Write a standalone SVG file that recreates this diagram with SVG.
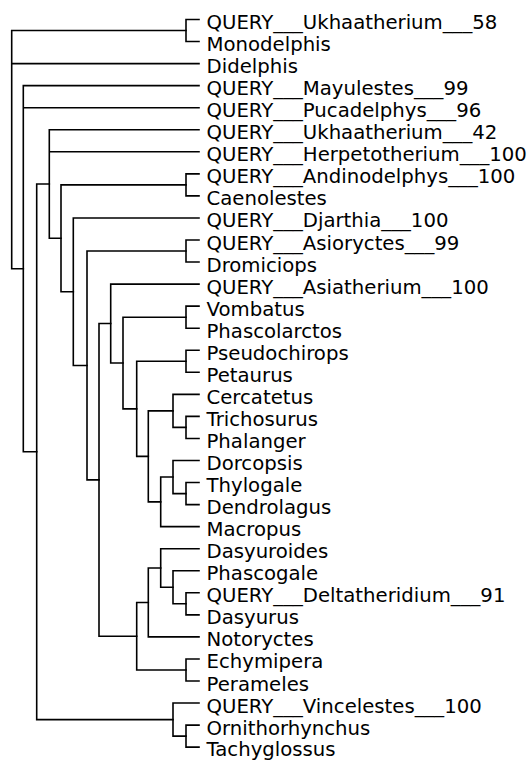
<svg xmlns="http://www.w3.org/2000/svg" width="531" height="760" viewBox="0 0 531 760">
<style>
.e{fill:none;stroke:#000;stroke-width:1.6;stroke-linecap:square}
text{font-family:"DejaVu Sans",sans-serif;font-size:19.7px;fill:#000}
</style>
<rect width="531" height="760" fill="#fff"/>
<g id="connectors" class="e">
<path d="M11.7,30.5V268.7M11.7,30.5H186M11.7,63.6H199M11.7,268.7H23.3"/>
<path d="M186,19.5V41.55M186,19.5H199M186,41.55H199"/>
<path d="M23.3,85.65V451.8M23.3,85.65H199M23.3,107.7H199M23.3,451.8H36.7"/>
<path d="M36.7,184V719.6M36.7,184H49.3M36.7,719.6H173"/>
<path d="M49.3,129.75V238.3M49.3,129.75H199M49.3,151.8H199M49.3,238.3H61"/>
<path d="M61,184.9V291.7M61,184.9H186M61,291.7H73.3"/>
<path d="M186,173.85V195.9M186,173.85H199M186,195.9H199"/>
<path d="M73.3,217.95V365.45M73.3,217.95H199M73.3,365.45H87"/>
<path d="M87,251V479.9M87,251H186M87,479.9H99"/>
<path d="M186,240V262.05M186,240H199M186,262.05H199"/>
<path d="M99,323.55V636.2M99,323.55H110.7M99,636.2H136.7"/>
<path d="M110.7,284.1V363M110.7,284.1H199M110.7,363H123"/>
<path d="M123,317.2V408.85M123,317.2H186M123,408.85H136.7"/>
<path d="M186,306.15V328.2M186,306.15H199M186,328.2H199"/>
<path d="M136.7,361.3V456.4M136.7,361.3H186M136.7,456.4H148.3"/>
<path d="M186,350.25V372.3M186,350.25H199M186,372.3H199"/>
<path d="M148.3,410.9V501.85M148.3,410.9H173M148.3,501.85H160.7"/>
<path d="M173,394.35V427.4M173,394.35H199M173,427.4H186"/>
<path d="M186,416.4V438.45M186,416.4H199M186,438.45H199"/>
<path d="M160.7,477.05V526.65M160.7,477.05H173M160.7,526.65H199"/>
<path d="M173,460.5V493.6M173,460.5H199M173,493.6H186"/>
<path d="M186,482.55V504.6M186,482.55H199M186,504.6H199"/>
<path d="M136.7,602.45V670M136.7,602.45H148.3M136.7,670H186"/>
<path d="M148.3,568V636.9M148.3,568H160.7M148.3,636.9H199"/>
<path d="M160.7,548.7V587.3M160.7,548.7H199M160.7,587.3H173"/>
<path d="M173,570.75V603.8M173,570.75H199M173,603.8H186"/>
<path d="M186,592.8V614.85M186,592.8H199M186,614.85H199"/>
<path d="M186,658.95V681M186,658.95H199M186,681H199"/>
<path d="M173,703.05V736.1M173,703.05H199M173,736.1H186"/>
<path d="M186,725.1V747.15M186,725.1H199M186,747.15H199"/>
</g>
<g id="leaf-ukhaatherium58"><text x="206.5" y="29">QUERY___Ukhaatherium___58</text></g>
<g id="leaf-monodelphis"><text x="206.5" y="51.05">Monodelphis</text></g>
<g id="leaf-didelphis"><text x="206.5" y="73.1">Didelphis</text></g>
<g id="leaf-mayulestes"><text x="206.5" y="95.15">QUERY___Mayulestes___99</text></g>
<g id="leaf-pucadelphys"><text x="206.5" y="117.2">QUERY___Pucadelphys___96</text></g>
<g id="leaf-ukhaatherium42"><text x="206.5" y="139.25">QUERY___Ukhaatherium___42</text></g>
<g id="leaf-herpetotherium"><text x="206.5" y="161.3">QUERY___Herpetotherium___100</text></g>
<g id="leaf-andinodelphys"><text x="206.5" y="183.35">QUERY___Andinodelphys___100</text></g>
<g id="leaf-caenolestes"><text x="206.5" y="205.4">Caenolestes</text></g>
<g id="leaf-djarthia"><text x="206.5" y="227.45">QUERY___Djarthia___100</text></g>
<g id="leaf-asioryctes"><text x="206.5" y="249.5">QUERY___Asioryctes___99</text></g>
<g id="leaf-dromiciops"><text x="206.5" y="271.55">Dromiciops</text></g>
<g id="leaf-asiatherium"><text x="206.5" y="293.6">QUERY___Asiatherium___100</text></g>
<g id="leaf-vombatus"><text x="206.5" y="315.65">Vombatus</text></g>
<g id="leaf-phascolarctos"><text x="206.5" y="337.7">Phascolarctos</text></g>
<g id="leaf-pseudochirops"><text x="206.5" y="359.75">Pseudochirops</text></g>
<g id="leaf-petaurus"><text x="206.5" y="381.8">Petaurus</text></g>
<g id="leaf-cercatetus"><text x="206.5" y="403.85">Cercatetus</text></g>
<g id="leaf-trichosurus"><text x="206.5" y="425.9">Trichosurus</text></g>
<g id="leaf-phalanger"><text x="206.5" y="447.95">Phalanger</text></g>
<g id="leaf-dorcopsis"><text x="206.5" y="470">Dorcopsis</text></g>
<g id="leaf-thylogale"><text x="206.5" y="492.05">Thylogale</text></g>
<g id="leaf-dendrolagus"><text x="206.5" y="514.1">Dendrolagus</text></g>
<g id="leaf-macropus"><text x="206.5" y="536.15">Macropus</text></g>
<g id="leaf-dasyuroides"><text x="206.5" y="558.2">Dasyuroides</text></g>
<g id="leaf-phascogale"><text x="206.5" y="580.25">Phascogale</text></g>
<g id="leaf-deltatheridium"><text x="206.5" y="602.3">QUERY___Deltatheridium___91</text></g>
<g id="leaf-dasyurus"><text x="206.5" y="624.35">Dasyurus</text></g>
<g id="leaf-notoryctes"><text x="206.5" y="646.4">Notoryctes</text></g>
<g id="leaf-echymipera"><text x="206.5" y="668.45">Echymipera</text></g>
<g id="leaf-perameles"><text x="206.5" y="690.5">Perameles</text></g>
<g id="leaf-vincelestes"><text x="206.5" y="712.55">QUERY___Vincelestes___100</text></g>
<g id="leaf-ornithorhynchus"><text x="206.5" y="734.6">Ornithorhynchus</text></g>
<g id="leaf-tachyglossus"><text x="206.5" y="755.6">Tachyglossus</text></g>
</svg>
